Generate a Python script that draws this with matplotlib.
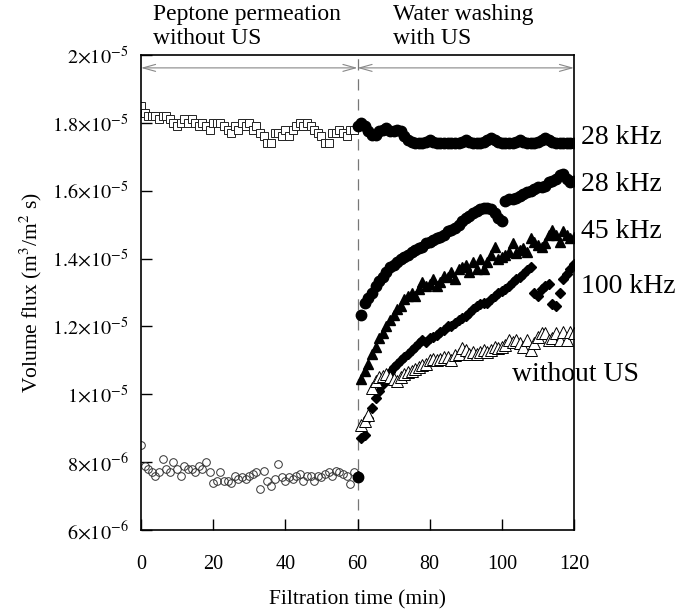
import numpy as np
import matplotlib
matplotlib.use("Agg")
import matplotlib.pyplot as plt
from matplotlib.transforms import blended_transform_factory

plt.rcParams['font.family'] = ['Liberation Serif', 'DejaVu Serif']
plt.rcParams['mathtext.fontset'] = 'stix'

# ---------------- data (flux in units of 1e-5 m3/m2 s) ----------------
t_peptone = np.arange(0, 60)          # min, sampling every minute
t_wash = np.arange(60, 121)           # min
t_wash_late = np.arange(61, 121)      # min

peptone_sq = [1.85, 1.83, 1.82, 1.82, 1.82, 1.81, 1.82, 1.82, 1.81, 1.80,
              1.79, 1.80, 1.81, 1.80, 1.81, 1.80, 1.79, 1.80, 1.79, 1.78,
              1.80, 1.80, 1.80, 1.79, 1.78, 1.77, 1.79, 1.78, 1.80, 1.79,
              1.80, 1.78, 1.79, 1.77, 1.76, 1.74, 1.74, 1.77, 1.77, 1.76,
              1.78, 1.76, 1.78, 1.79, 1.80, 1.79, 1.80, 1.79, 1.78, 1.77,
              1.76, 1.74, 1.74, 1.77, 1.77, 1.78, 1.77, 1.76, 1.78, 1.78]

peptone_circ = [0.85, 0.79, 0.78, 0.77, 0.76, 0.77, 0.81, 0.78, 0.77, 0.80,
                0.78, 0.76, 0.79, 0.78, 0.78, 0.77, 0.79, 0.78, 0.80, 0.77,
                0.74, 0.745, 0.77, 0.745, 0.745, 0.74, 0.76, 0.75, 0.755, 0.75,
                0.76, 0.765, 0.77, 0.72, 0.775, 0.745, 0.73, 0.75, 0.795, 0.755,
                0.745, 0.755, 0.75, 0.76, 0.765, 0.745, 0.76, 0.76, 0.745, 0.76,
                0.755, 0.765, 0.77, 0.76, 0.775, 0.77, 0.765, 0.76, 0.735, 0.77]

wash_28_top = [1.79, 1.80, 1.79, 1.775, 1.765, 1.765, 1.775, 1.78, 1.785, 1.775,
               1.775, 1.78, 1.775, 1.76, 1.75, 1.745, 1.74, 1.74, 1.74, 1.745,
               1.75, 1.745, 1.74, 1.74, 1.74, 1.74, 1.74, 1.74, 1.74, 1.745,
               1.75, 1.745, 1.74, 1.74, 1.74, 1.745, 1.75, 1.755, 1.75, 1.745,
               1.74, 1.74, 1.74, 1.74, 1.745, 1.75, 1.745, 1.74, 1.74, 1.74,
               1.745, 1.75, 1.755, 1.75, 1.745, 1.74, 1.74, 1.74, 1.74, 1.74,
               1.74]

wash_28 = [0.757, 1.235, 1.27, 1.285, 1.30, 1.32, 1.335, 1.345, 1.36, 1.375,
           1.38, 1.39, 1.40, 1.405, 1.41, 1.42, 1.425, 1.43, 1.435, 1.445,
           1.45, 1.455, 1.46, 1.465, 1.47, 1.48, 1.485, 1.49, 1.50, 1.51,
           1.52, 1.525, 1.535, 1.54, 1.545, 1.55, 1.55, 1.545, 1.535, 1.52,
           1.51, 1.57, 1.575, 1.575, 1.58, 1.585, 1.59, 1.595, 1.60, 1.605,
           1.61, 1.61, 1.615, 1.625, 1.63, 1.635, 1.645, 1.65, 1.635, 1.625,
           1.63]

wash_45 = [1.045, 1.07, 1.09, 1.12, 1.14, 1.165, 1.18, 1.20, 1.22, 1.235,
           1.25, 1.26, 1.28, 1.29, 1.30, 1.29, 1.31, 1.33, 1.32, 1.325,
           1.34, 1.32, 1.33, 1.35, 1.345, 1.36, 1.34, 1.37, 1.375, 1.38,
           1.36, 1.39, 1.37, 1.40, 1.37, 1.39, 1.41, 1.435, 1.40, 1.405,
           1.41, 1.42, 1.445, 1.415, 1.425, 1.43, 1.42, 1.46, 1.45, 1.44,
           1.435, 1.445, 1.47, 1.485, 1.47, 1.45, 1.48, 1.47, 1.46, 1.465]

wash_100 = [0.76, 0.87, 0.88, 0.93, 0.96, 0.99, 1.01, 1.03, 1.05, 1.065,
            1.08, 1.09, 1.10, 1.11, 1.12, 1.13, 1.14, 1.15, 1.16, 1.155,
            1.165, 1.17, 1.175, 1.185, 1.19, 1.20, 1.20, 1.21, 1.22, 1.225,
            1.23, 1.24, 1.25, 1.26, 1.265, 1.27, 1.27, 1.28, 1.29, 1.30,
            1.305, 1.31, 1.32, 1.33, 1.34, 1.345, 1.355, 1.365, 1.375, 1.30,
            1.29, 1.31, 1.32, 1.325, 1.265, 1.26, 1.30, 1.34, 1.355, 1.37,
            1.385]

wash_noUS = [0.91, 0.92, 0.94, 1.02, 1.04, 1.05, 1.055, 1.06, 1.05, 1.045,
             1.04, 1.05, 1.06, 1.065, 1.07, 1.075, 1.08, 1.085, 1.09, 1.10,
             1.105, 1.10, 1.105, 1.11, 1.11, 1.10, 1.115, 1.12, 1.135, 1.13,
             1.12, 1.125, 1.12, 1.125, 1.13, 1.125, 1.13, 1.14, 1.135, 1.14,
             1.145, 1.16, 1.155, 1.16, 1.15, 1.14, 1.16, 1.13, 1.15, 1.17,
             1.18, 1.18, 1.16, 1.165, 1.18, 1.16, 1.185, 1.16, 1.185, 1.18]

y_ticks = [0.6, 0.8, 1.0, 1.2, 1.4, 1.6, 1.8, 2.0]
y_tick_labels = [r'$6{\times}10^{-6}$', r'$8{\times}10^{-6}$', r'$1{\times}10^{-5}$',
                 r'$1.2{\times}10^{-5}$', r'$1.4{\times}10^{-5}$', r'$1.6{\times}10^{-5}$',
                 r'$1.8{\times}10^{-5}$', r'$2{\times}10^{-5}$']
x_ticks = [0, 20, 40, 60, 80, 100, 120]

series_labels = ['28 kHz', '28 kHz', '45 kHz', '100 kHz', 'without US']
label_y = [1.758, 1.617, 1.479, 1.317, 1.057]

# ---------------- figure ----------------
fig = plt.figure(figsize=(6.86, 6.15), dpi=100)
ax = fig.add_axes([141/686, 1 - 530/615, (574-141)/686, (530-55)/615])

ax.plot(t_peptone, peptone_sq, ls='none', marker='s', ms=5.5, mfc='white',
        mec='#222222', mew=0.7)
ax.plot(t_peptone, peptone_circ, ls='none', marker='o', ms=5.5, mfc='none',
        mec='#333333', mew=0.7)
ax.plot(t_wash, wash_28_top, ls='none', marker='o', ms=7.5, color='black')
ax.plot(t_wash, wash_28, ls='none', marker='o', ms=7.5, color='black')
ax.plot(t_wash_late, wash_45, ls='none', marker='^', ms=7.5, color='black')
ax.plot(t_wash, wash_100, ls='none', marker='D', ms=5.5, color='black')
ax.plot(t_wash_late, wash_noUS, ls='none', marker='^', ms=8, mfc='white',
        mec='black', mew=0.7)

ax.axvline(60, color='#777777', lw=0.9, ls=(0, (9, 7)), zorder=0)

arrow_y = 1.962
for x0, x1 in [(0, 60), (60, 120)]:
    ax.annotate('', xy=(x0, arrow_y), xytext=(x1, arrow_y),
                arrowprops=dict(arrowstyle='<->,head_length=0.9,head_width=0.25',
                                color='#888888', lw=0.8, shrinkA=0, shrinkB=0))

ax.set_xlim(0, 120)
ax.set_ylim(0.6, 2.0)
ax.set_xticks(x_ticks)
ax.set_yticks(y_ticks)
ax.set_yticklabels(y_tick_labels)
ax.tick_params(axis='both', direction='in', length=8, width=1.0, labelsize=14.5)
ax.tick_params(axis='x', pad=18)
ax.tick_params(axis='y', pad=9)
for s in ax.spines.values():
    s.set_linewidth(1.2)

ax.set_xlabel('Filtration time (min)', fontsize=15.5, labelpad=12)
ax.set_ylabel(r'Volume flux (m$^3$/m$^2$ s)', fontsize=15.5, labelpad=6)

trans = blended_transform_factory(ax.transAxes, ax.transData)
for i, (lab, yv) in enumerate(zip(series_labels, label_y)):
    if lab == 'without US':
        ax.text(102.8, yv, lab, fontsize=20, va='center', ha='left')
    else:
        ax.text(1.017, yv, lab, fontsize=20, va='center', ha='left',
                transform=trans, clip_on=False)

fig.text(153/686, 1 - 4/615, 'Peptone permeation\nwithout US', fontsize=17,
         va='top', ha='left')
fig.text(393/686, 1 - 4/615, 'Water washing\nwith US', fontsize=17,
         va='top', ha='left')

fig.savefig('out.png', dpi=100)
